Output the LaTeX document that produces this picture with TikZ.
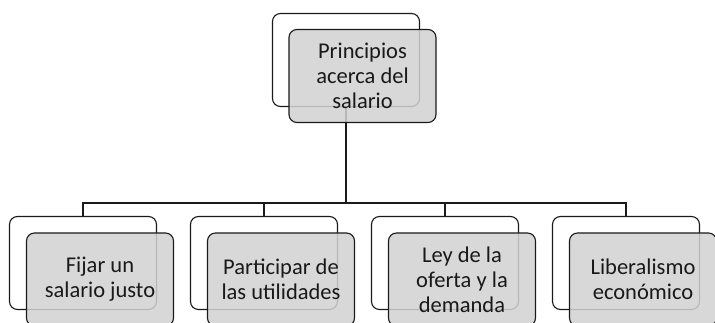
\documentclass[tikz,border=0pt]{standalone}
\usepackage{fontspec}
\setmainfont{Carlito}
\usetikzlibrary{positioning}
\definecolor{boxgray}{HTML}{D2D2D2}
\definecolor{inkline}{HTML}{1A1A1A}

\begin{document}
\begin{tikzpicture}[x=1pt, y=-1pt,
  backbox/.style={draw=inkline, rounded corners=8pt, minimum width=147pt, minimum height=93pt, line width=1.1pt, fill=white, inner sep=0pt},
  frontbox/.style={draw=inkline, rounded corners=8pt, minimum width=147pt, minimum height=93pt, line width=1.1pt, fill=boxgray, fill opacity=0.86, text opacity=1, align=center, text=black!90, font=\fontsize{22.5}{25}\selectfont, inner sep=0pt},
  link/.style={line width=1.3pt, inkline}
]
  \useasboundingbox (0,0) rectangle (715,323);
  \clip (0,0) rectangle (715,323);

  % back frames
  \node[backbox] (topback) at (346,60) {};
  \node[backbox] (b1) at (83,263) {};
  \node[backbox] (b2) at (264,263) {};
  \node[backbox] (b3) at (445,263) {};
  \node[backbox] (b4) at (626,263) {};

  % tree lines
  \coordinate (hub) at (346,203);
  \draw[link] (topback.south) -- (hub);
  \draw[link] (b1.north) |- (hub) -| (b4.north);
  \draw[link] (hub) -| (b2.north);
  \draw[link] (hub) -| (b3.north);

  % front boxes
  \node[frontbox] (top) at ([xshift=16.5pt, yshift=-16pt]topback.center) {Principios\\acerca del\\salario};
  \node[frontbox] (fijar) at ([xshift=17pt, yshift=-16.5pt]b1.center) {Fijar un\\salario justo};
  \node[frontbox] (particip) at ([xshift=17pt, yshift=-16.5pt]b2.center) {Participar de\\las utilidades};
  \node[frontbox] (oferta) at ([xshift=17pt, yshift=-16.5pt]b3.center) {Ley de la\\oferta y la\\demanda};
  \node[frontbox] (liberal) at ([xshift=17pt, yshift=-16.5pt]b4.center) {Liberalismo\\económico};
\end{tikzpicture}
\end{document}
